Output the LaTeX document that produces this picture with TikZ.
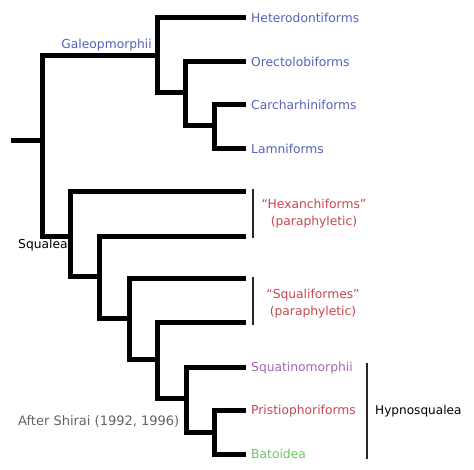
\documentclass[tikz,border=0pt]{standalone}
\usepackage{fontspec}
\setmainfont{DejaVu Sans}
\definecolor{cblue}{RGB}{84,98,184}
\definecolor{cred}{RGB}{200,70,80}
\definecolor{cpurple}{RGB}{164,100,180}
\definecolor{cgreen}{RGB}{108,200,96}
\definecolor{cgrey}{RGB}{100,100,100}
\tikzset{
  branch/.style={line width=5pt, line join=miter},
  brack/.style={line width=1.4pt, draw=black!85},
  leaf/.style={anchor=west, inner xsep=5pt, inner ysep=0pt, text height=9pt, text depth=0pt, font=\fontsize{12.3}{14}\selectfont},
  lbl/.style={inner sep=0pt, font=\fontsize{12.3}{14}\selectfont},
}
\begin{document}
\begin{tikzpicture}[x=1pt,y=-1pt]
\useasboundingbox[fill=white] (0,0) rectangle (474,470);
% internal nodes
\coordinate (stub) at (11,141);
\coordinate (r) at (42,141);
\coordinate (g) at (157,56);
\coordinate (n2) at (185,93);
\coordinate (n3) at (214,126);
\coordinate (s) at (70,237);
\coordinate (b) at (99,277);
\coordinate (c) at (129,319);
\coordinate (d) at (157,360);
\coordinate (e) at (186,398);
\coordinate (f) at (214,432);
% leaves
\node[leaf, text=cblue] (het) at (246,18) {Heterodontiforms};
\node[leaf, text=cblue] (ore) at (246,62) {Orectolobiforms};
\node[leaf, text=cblue] (car) at (246,105) {Carcharhiniforms};
\node[leaf, text=cblue] (lam) at (246,149) {Lamniforms};
\coordinate (hx1) at (246,192);
\coordinate (hx2) at (246,237);
\coordinate (sq1) at (246,279);
\coordinate (sq2) at (246,323);
\node[leaf, text=cpurple] (squ) at (246,367) {Squatinomorphii};
\node[leaf, text=cred] (pri) at (246,410) {Pristiophoriforms};
\node[leaf, text=cgreen] (bat) at (246,454) {Batoidea};
% branches
\draw[branch] (stub) -- (r);
\draw[branch] (g) -| (r) |- (s);
\draw[branch] (het.west) -| (g) |- (n2);
\draw[branch] (ore.west) -| (n2) |- (n3);
\draw[branch] (car.west) -| (n3) |- (lam.west);
\draw[branch] (hx1) -| (s) |- (b);
\draw[branch] (hx2) -| (b) |- (c);
\draw[branch] (sq1) -| (c) |- (d);
\draw[branch] (sq2) -| (d) |- (e);
\draw[branch] (squ.west) -| (e) |- (f);
\draw[branch] (pri.west) -| (f) |- (bat.west);
% clade labels
\node[lbl, text=cblue, anchor=base east] (galeo) at (152,49) {Galeopmorphii};
\node[lbl, anchor=base west] (squalea) at (18,249) {Squalea};
\node[lbl, text=cgrey, anchor=base west, font=\fontsize{13}{15}\selectfont] (shirai) at (18,425) {After Shirai (1992, 1996)};
% brackets
\coordinate (bh1) at (253,189);
\coordinate (bh2) at (253,238);
\draw[brack] (bh1) -- (bh2);
\node[lbl, text=cred, anchor=base] (hexa) at (314,209) {“Hexanchiforms”};
\node[lbl, text=cred, anchor=base] (hexb) at (314,226) {(paraphyletic)};
\coordinate (bs1) at (253,277);
\coordinate (bs2) at (253,325);
\draw[brack] (bs1) -- (bs2);
\node[lbl, text=cred, anchor=base] (sqa) at (313,299) {“Squaliformes”};
\node[lbl, text=cred, anchor=base] (sqb) at (313,316) {(paraphyletic)};
\coordinate (bp1) at (367,363);
\coordinate (bp2) at (367,459);
\draw[brack] (bp1) -- (bp2);
\node[lbl, anchor=base west, font=\fontsize{12.1}{14}\selectfont] (hyp) at (375,414) {Hypnosqualea};
\end{tikzpicture}
\end{document}
